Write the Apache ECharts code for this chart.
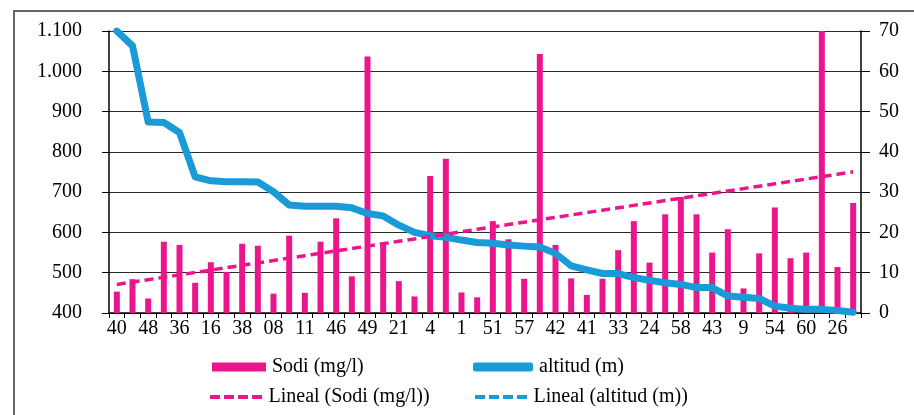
<!DOCTYPE html>
<html>
<head>
<meta charset="utf-8">
<style>
  html, body { margin: 0; padding: 0; background: #fff; }
  #chart { width: 914px; height: 415px; }
</style>
<script src="https://cdn.jsdelivr.net/npm/echarts@6/dist/echarts.min.js"></script>
</head>
<body>
<div id="chart"></div>
<script>
// Sampling points, ordered by decreasing altitude (only every other code is labelled)
const categories = [
  '40', '39', '48', '47', '36', '35', '16', '15', '38', '37', '08', '07',
  '11', '10', '46', '45', '49', '50', '21', '22', '4', '3', '1', '2',
  '51', '52', '57', '56', '42', '44', '41', '34', '33', '25', '24', '59',
  '58', '29', '43', '30', '9', '53', '54', '55', '60', '61', '26', '27'
];

// Sodium concentration (mg/l), left axis; the peak at point 61 runs off the top of the scale
const sodi = [
  453, 484, 436, 577, 569, 475, 526, 502, 572, 567, 448, 592,
  450, 577, 635, 491, 1037, 573, 479, 441, 740, 783, 451, 439,
  628, 583, 485, 1043, 569, 486, 445, 485, 556, 628, 525, 645,
  688, 645, 550, 608, 461, 548, 662, 536, 550, 2500, 514, 673
];

// Altitude (m), right axis
const altitud = [
  70, 66.3, 47.4, 47.3, 44.8, 33.8, 32.8, 32.6, 32.6, 32.5, 30.1, 26.8,
  26.5, 26.5, 26.5, 26.1, 24.7, 24.1, 21.8, 20.0, 19.2, 18.8, 18.1, 17.5,
  17.3, 16.9, 16.6, 16.4, 14.8, 11.7, 10.7, 9.8, 9.8, 8.8, 8.1, 7.5,
  7.1, 6.3, 6.3, 4.2, 3.9, 3.6, 1.7, 1.2, 0.9, 0.9, 0.6, 0.2
];

const leftTicks = { min: 400, max: 1100, step: 100 };
const rightTicks = { min: 0, max: 70, step: 10 };

// Least-squares linear trend over the category positions 1..n
function linearTrend(values) {
  const n = values.length;
  let sx = 0, sy = 0, sxx = 0, sxy = 0;
  values.forEach((y, i) => {
    const x = i + 1;
    sx += x; sy += y; sxx += x * x; sxy += x * y;
  });
  const b = (n * sxy - sx * sy) / (n * sxx - sx * sx);
  const a = (sy - b * sx) / n;
  return values.map((_, i) => +(a + b * (i + 1)).toFixed(2));
}

const sodiTrend = linearTrend(sodi);

const PINK = '#EC168C';
const BLUE = '#1A9BD7';
const FONT = '"Liberation Serif", "Times New Roman", serif';

// Thousands separator with a dot: 1100 -> 1.100
function fmtThousands(v) {
  if (v >= 1000) {
    return Math.floor(v / 1000) + '.' + String(v % 1000).padStart(3, '0');
  }
  return String(v);
}

const dashIcon = 'path://M0,0h10v4h-10z M14,0h10v4h-10z M28,0h10v4h-10z M42,0h10v4h-10z';

function legendBox(name, left, top, icon, w, h) {
  return {
    data: [name],
    left: left,
    top: top,
    icon: icon,
    itemWidth: w,
    itemHeight: h,
    itemGap: 0,
    padding: 0,
    selectedMode: false,
    textStyle: { fontFamily: FONT, fontSize: 20, color: '#000', padding: [0, 0, 0, 1] }
  };
}

const chart = echarts.init(document.getElementById('chart'), null, { renderer: 'canvas' });

chart.setOption({
  animation: false,
  backgroundColor: '#fff',
  graphic: [
    {
      type: 'polyline',
      shape: { points: [[14, 420], [14, 11], [914, 11]] },
      style: { stroke: '#666', lineWidth: 2, fill: null },
      silent: true
    }
  ],
  legend: [
    legendBox('Sodi (mg/l)', 212, 357, 'rect', 54, 9),
    legendBox('altitud (m)', 473, 357, 'roundRect', 60, 9),
    legendBox('Lineal (Sodi (mg/l))', 210, 387, dashIcon, 53, 4),
    legendBox('Lineal (altitud (m))', 475, 387, dashIcon, 53, 4)
  ],
  grid: { left: 109, right: 53, top: 31, bottom: 102, containLabel: false },
  xAxis: {
    type: 'category',
    data: categories,
    boundaryGap: true,
    axisLine: { show: true, lineStyle: { color: '#000', width: 1.5 } },
    axisTick: { show: true, interval: 0, length: 5, lineStyle: { color: '#000' } },
    axisLabel: {
      interval: 1,
      margin: 6,
      fontFamily: FONT,
      fontSize: 20,
      color: '#000'
    },
    splitLine: { show: false }
  },
  yAxis: [
    {
      type: 'value',
      position: 'left',
      min: leftTicks.min,
      max: leftTicks.max,
      interval: leftTicks.step,
      axisLine: { show: true, lineStyle: { color: '#000', width: 1.5 } },
      axisTick: { show: true, length: 7, lineStyle: { color: '#000' } },
      axisLabel: {
        margin: 27,
        fontFamily: FONT,
        fontSize: 20,
        color: '#000',
        formatter: fmtThousands
      },
      splitLine: { show: true, lineStyle: { color: '#2a2a2a', width: 1.2 } }
    },
    {
      type: 'value',
      position: 'right',
      min: rightTicks.min,
      max: rightTicks.max,
      interval: rightTicks.step,
      axisLine: { show: true, lineStyle: { color: '#000', width: 1.5 } },
      axisTick: { show: true, length: 9, lineStyle: { color: '#000' } },
      axisLabel: {
        margin: 18,
        fontFamily: FONT,
        fontSize: 20,
        color: '#000'
      },
      splitLine: { show: false }
    }
  ],
  series: [
    {
      name: 'Sodi (mg/l)',
      type: 'bar',
      yAxisIndex: 0,
      data: sodi,
      barWidth: 6,
      clip: true,
      itemStyle: { color: PINK },
      z: 2
    },
    {
      name: 'Lineal (Sodi (mg/l))',
      type: 'line',
      yAxisIndex: 0,
      data: sodiTrend,
      symbol: 'none',
      itemStyle: { color: PINK },
      lineStyle: { color: PINK, width: 3.5, type: [9, 5] },
      z: 4
    },
    {
      name: 'altitud (m)',
      type: 'line',
      yAxisIndex: 1,
      data: altitud,
      symbol: 'none',
      clip: true,
      itemStyle: { color: BLUE },
      lineStyle: { color: BLUE, width: 7, join: 'round', cap: 'round' },
      z: 3
    },
    {
      name: 'Lineal (altitud (m))',
      type: 'line',
      yAxisIndex: 1,
      data: [],
      symbol: 'none',
      itemStyle: { color: BLUE },
      lineStyle: { color: BLUE, width: 3.5, type: [9, 5] },
      z: 3
    }
  ]
});
</script>
</body>
</html>
